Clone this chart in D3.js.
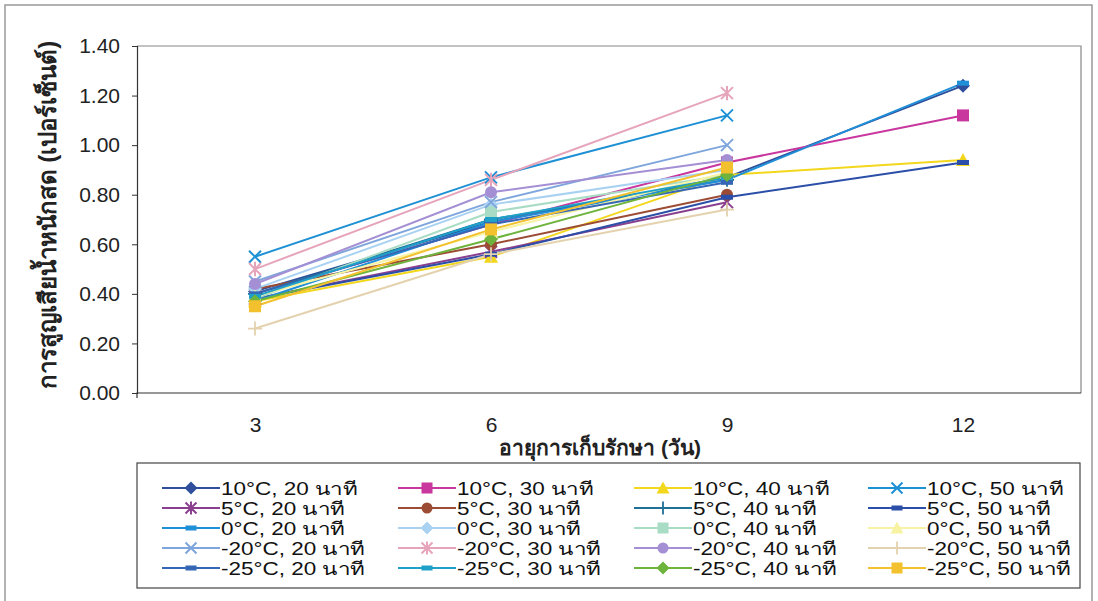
<html lang="th">
<head>
    <meta charset="utf-8">
    <title>Weight loss chart</title>
    <script type="text/javascript" src="https://cdn.jsdelivr.net/npm/d3@7"></script>
    <style type="text/css">
        body { margin: 0; background: #fff; }
        text { font-family: "Liberation Sans", Arial, sans-serif; }
    </style>
</head>
<body>
<script type="text/javascript">
    // data
    var days = ["3", "6", "9", "12"];
    var yTicks = [0, 0.2, 0.4, 0.6, 0.8, 1.0, 1.2, 1.4];

    var names = [
        "10°C, 20 นาที", "10°C, 30 นาที", "10°C, 40 นาที", "10°C, 50 นาที",
        "5°C, 20 นาที", "5°C, 30 นาที", "5°C, 40 นาที", "5°C, 50 นาที",
        "0°C, 20 นาที", "0°C, 30 นาที", "0°C, 40 นาที", "0°C, 50 นาที",
        "-20°C, 20 นาที", "-20°C, 30 นาที", "-20°C, 40 นาที", "-20°C, 50 นาที",
        "-25°C, 20 นาที", "-25°C, 30 นาที", "-25°C, 40 นาที", "-25°C, 50 นาที"
    ];
    var values = [
        [0.41, 0.69, 0.87, 1.24],
        [0.40, 0.68, 0.93, 1.12],
        [0.37, 0.55, 0.88, 0.94],
        [0.55, 0.87, 1.12, null],
        [0.38, 0.57, 0.77, null],
        [0.42, 0.60, 0.80, null],
        [0.40, 0.70, 0.86, null],
        [0.38, 0.56, 0.79, 0.93],
        [0.37, 0.69, 0.86, 1.25],
        [0.42, 0.76, 0.90, null],
        [0.38, 0.73, 0.88, null],
        [0.39, 0.65, 0.89, null],
        [0.45, 0.77, 1.00, null],
        [0.50, 0.86, 1.21, null],
        [0.44, 0.81, 0.94, null],
        [0.26, 0.56, 0.74, null],
        [0.40, 0.68, 0.85, null],
        [0.39, 0.70, 0.87, null],
        [0.37, 0.62, 0.88, null],
        [0.35, 0.66, 0.91, null]
    ];
    var colors = [
        "#2f4f9c", "#c8369e", "#f2d71c", "#1e90d4",
        "#8a3f8f", "#9c4b34", "#1f6f97", "#2b4fa8",
        "#1f8fd8", "#a9d2f2", "#a9dcc4", "#f7f3a2",
        "#7fa6dc", "#e6a4bb", "#a48fd4", "#e3d2ad",
        "#3567b6", "#1fa0c9", "#6db33c", "#f2c12d"
    ];
    var markers = [
        "diamond", "square", "triangle", "x",
        "star", "circle", "plus", "dash",
        "dash", "diamond", "square", "triangle",
        "x", "star", "circle", "plus",
        "dash", "dash", "diamond", "square"
    ];

    var W = 1098, H = 601;
    var plotL = 137, plotT = 46, plotR = 1081, plotB = 393;

    var svg = d3.select("body").append("svg")
            .attr("width", W)
            .attr("height", H);

    // outer frame
    svg.append("rect")
            .attr("x", 5).attr("y", 5)
            .attr("width", 1087).attr("height", 600)
            .attr("fill", "none")
            .attr("stroke", "#999")
            .attr("stroke-width", 1.5);

    var x = d3.scalePoint().domain(days).range([plotL, plotR]).padding(0.5);
    var y = d3.scaleLinear().domain([0, 1.4]).range([plotB, plotT]);

    // plot border (top and right)
    svg.append("path")
            .attr("d", "M" + plotL + "," + plotT + "H" + plotR + "V" + plotB)
            .attr("fill", "none")
            .attr("stroke", "#888")
            .attr("stroke-width", 1.2);

    var yAxis = svg.append("g")
            .attr("transform", "translate(" + plotL + ",0)")
            .call(d3.axisLeft(y).tickValues(yTicks).tickFormat(d3.format(".2f")).tickSize(5).tickPadding(12));
    yAxis.select(".domain").attr("stroke", "#333").attr("stroke-width", 1.2);
    yAxis.selectAll("line").attr("stroke", "#333");
    yAxis.selectAll("text").attr("font-size", "21px").attr("fill", "#222")
            .style("font-family", "'Liberation Sans', Arial, sans-serif");

    var xAxis = svg.append("g")
            .attr("transform", "translate(0," + plotB + ")")
            .call(d3.axisBottom(x).tickSize(0).tickPadding(24));
    xAxis.select(".domain").attr("d", "M" + plotL + ",5V0H" + plotR).attr("stroke", "#333").attr("stroke-width", 1.2);
    xAxis.selectAll("text").attr("font-size", "21px").attr("fill", "#222")
            .style("font-family", "'Liberation Sans', Arial, sans-serif");

    // axis titles
    svg.append("text")
            .attr("x", 600).attr("y", 455)
            .attr("text-anchor", "middle")
            .attr("font-size", "21px")
            .attr("font-weight", "bold")
            .attr("fill", "#222")
            .text("อายุการเก็บรักษา (วัน)");
    svg.append("text")
            .attr("transform", "translate(56,215) rotate(-90)")
            .attr("text-anchor", "middle")
            .attr("font-size", "24px")
            .attr("font-weight", "bold")
            .attr("fill", "#222")
            .text("การสูญเสียน้ำหนักสด (เปอร์เซ็นต์)");

    function drawMarker(g, type, color, s) {
        var r = s / 2;
        if (type === "diamond") {
            g.append("path").attr("d", "M0," + (-r - 1) + "L" + (r + 1) + ",0L0," + (r + 1) + "L" + (-r - 1) + ",0Z").attr("fill", color);
        } else if (type === "square") {
            g.append("rect").attr("x", -r).attr("y", -r).attr("width", s).attr("height", s).attr("fill", color);
        } else if (type === "triangle") {
            g.append("path").attr("d", "M0," + (-r - 1) + "L" + (r + 1) + "," + r + "L" + (-r - 1) + "," + r + "Z").attr("fill", color);
        } else if (type === "circle") {
            g.append("circle").attr("r", r).attr("fill", color);
        } else if (type === "x") {
            g.append("path").attr("d", "M" + (-r) + "," + (-r) + "L" + r + "," + r + "M" + (-r) + "," + r + "L" + r + "," + (-r))
                    .attr("fill", "none").attr("stroke", color).attr("stroke-width", 2);
        } else if (type === "star") {
            g.append("path").attr("d", "M" + (-r) + "," + (-r) + "L" + r + "," + r + "M" + (-r) + "," + r + "L" + r + "," + (-r) + "M0," + (-r * 1.2) + "V" + (r * 1.2))
                    .attr("fill", "none").attr("stroke", color).attr("stroke-width", 2);
        } else if (type === "plus") {
            var p = r + 1;
            g.append("path").attr("d", "M" + (-p) + ",0H" + p + "M0," + (-p) + "V" + p)
                    .attr("fill", "none").attr("stroke", color).attr("stroke-width", 1.8);
        } else if (type === "dash") {
            g.append("rect").attr("x", -r).attr("y", -2.5).attr("width", s).attr("height", 5).attr("fill", color);
        }
    }

    var line = d3.line()
            .defined(function(d) { return d.v !== null; })
            .x(function(d) { return x(d.day); })
            .y(function(d) { return y(d.v); });

    var series = names.map(function(n, i) {
        return {
            name: n, color: colors[i], marker: markers[i],
            pts: values[i].map(function(v, j) { return { day: days[j], v: v }; })
        };
    });

    var plot = svg.append("g");
    series.forEach(function(s) {
        plot.append("path")
                .datum(s.pts)
                .attr("fill", "none")
                .attr("stroke", s.color)
                .attr("stroke-width", 2)
                .attr("d", line);
    });
    series.forEach(function(s) {
        s.pts.filter(function(d) { return d.v !== null; }).forEach(function(d) {
            var g = plot.append("g").attr("transform", "translate(" + x(d.day) + "," + y(d.v) + ")");
            drawMarker(g, s.marker, s.color, 12);
        });
    });

    // legend
    svg.append("rect")
            .attr("x", 137).attr("y", 463)
            .attr("width", 943).attr("height", 125)
            .attr("fill", "#fff")
            .attr("stroke", "#444")
            .attr("stroke-width", 1.2);

    var colX = [162, 398, 634, 868];
    series.forEach(function(s, i) {
        var cx = colX[i % 4], cy = 488 + Math.floor(i / 4) * 20;
        var g = svg.append("g").attr("transform", "translate(" + cx + "," + cy + ")");
        g.append("line").attr("x1", 0).attr("x2", 58).attr("y1", 0).attr("y2", 0)
                .attr("stroke", s.color).attr("stroke-width", 2);
        drawMarker(g.append("g").attr("transform", "translate(29,0)"), s.marker, s.color, 11);
        g.append("text")
                .attr("transform", "translate(59,7) scale(1.25,1)")
                .attr("font-size", "18px")
                .attr("fill", "#111")
                .text(s.name);
    });
</script>
</body>
</html>
